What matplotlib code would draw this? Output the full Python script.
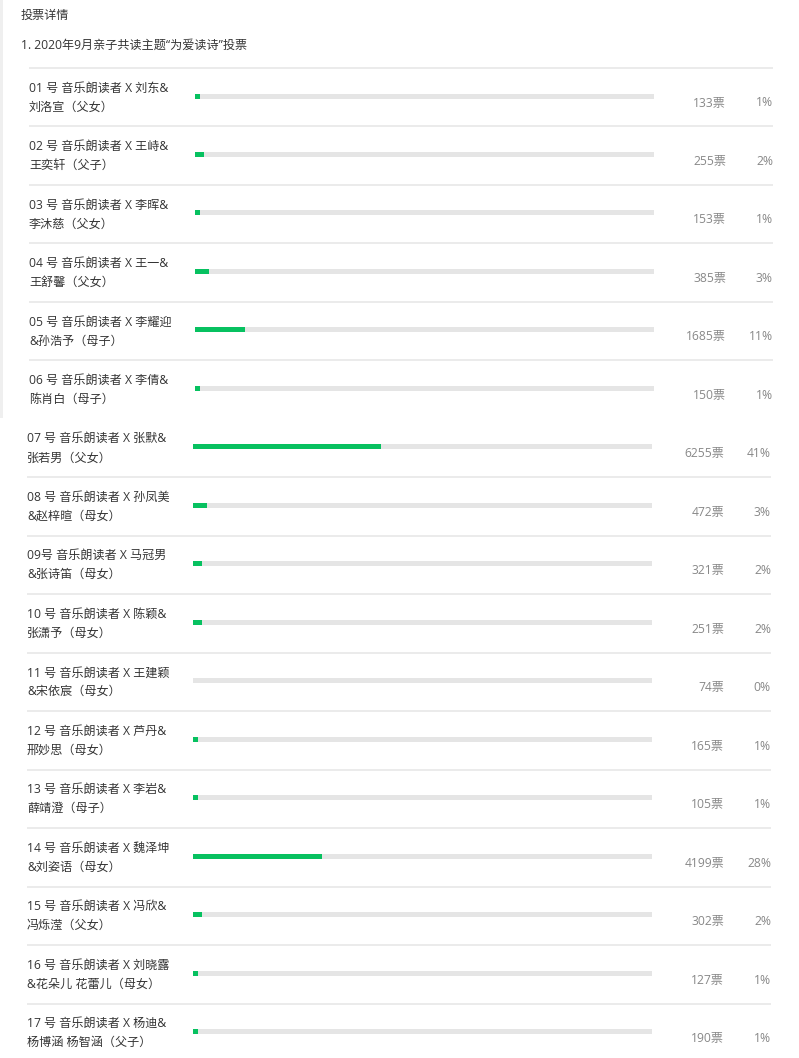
import matplotlib.pyplot as plt
from matplotlib.patches import Rectangle

plt.rcParams['font.family'] = ['Open Sans', 'Noto Sans CJK SC', 'DejaVu Sans']

# data
header = "投票详情"
question = "1. 2020年9月亲子共读主题“为爱读诗”投票"
line1 = ["01 号 音乐朗读者 X 刘东&", "02 号 音乐朗读者 X 王峙&", "03 号 音乐朗读者 X 李晖&",
         "04 号 音乐朗读者 X 王一&", "05 号 音乐朗读者 X 李耀迎", "06 号 音乐朗读者 X 李倩&",
         "07 号 音乐朗读者 X 张默&", "08 号 音乐朗读者 X 孙凤美", "09号 音乐朗读者 X 马冠男",
         "10 号 音乐朗读者 X 陈颖&", "11 号 音乐朗读者 X 王建颖", "12 号 音乐朗读者 X 芦丹&",
         "13 号 音乐朗读者 X 李岩&", "14 号 音乐朗读者 X 魏泽坤", "15 号 音乐朗读者 X 冯欣&",
         "16 号 音乐朗读者 X 刘晓露", "17 号 音乐朗读者 X 杨迪&"]
line2 = ["刘洛宣（父女）", "王奕轩（父子）", "李沐慈（父女）", "王舒馨（父女）", "&孙浩予（母子）",
         "陈肖白（母子）", "张若男（父女）", "&赵梓暄（母女）", "&张诗笛（母女）", "张潇予（母女）",
         "&宋依宸（母女）", "邢妙思（母女）", "薛靖澄（母子）", "&刘姿语（母女）", "冯烁滢（父女）",
         "&花朵儿 花蕾儿（母女）", "杨博涵 杨智涵（父子）"]
votes = [133, 255, 153, 385, 1685, 150, 6255, 472, 321, 251, 74, 165, 105, 4199, 302, 127, 190]
pcts = [1, 2, 1, 3, 11, 1, 41, 3, 2, 2, 0, 1, 1, 28, 2, 1, 1]

W, H = 799, 1058
fig = plt.figure(figsize=(W / 100, H / 100), dpi=100)
ax = fig.add_axes([0, 0, 1, 1])
ax.set_xlim(0, W)
ax.set_ylim(H, 0)
ax.axis('off')

green = '#07c160'
track = '#e5e5e5'
dark = '#353535'
grey = '#888888'
fs = 8.7

# left border of the upper screenshot part
ax.add_patch(Rectangle((0, 0), 3, 418, color='#efefef', lw=0))

ax.text(21, 15, header, fontsize=fs, color=dark, va='center')
ax.text(21, 45, question, fontsize=fs, color=dark, va='center')

pitch = 58.47
track_len = 459
for i in range(len(votes)):
    top = 68 + i * pitch
    dx = 2 if i < 6 else 0
    if i != 6:
        ax.plot([27 + dx, 771 + dx], [top, top], color='#e8e8e8', lw=1.2, solid_capstyle='butt')
    ax.text(27 + dx, top + 20, line1[i], fontsize=fs, color=dark, va='center')
    ax.text(27 + dx, top + 39, line2[i], fontsize=fs, color=dark, va='center')
    ax.barh(top + 28, track_len, left=193 + dx, height=5, color=track, lw=0)
    ax.barh(top + 28, track_len * pcts[i] / 100, left=193 + dx, height=5, color=green, lw=0)
    ax.text(724 + dx, top + 35, f"{votes[i]}票", fontsize=fs, color=grey, va='center', ha='right')
    ax.text(771 + dx, top + 35, f"{pcts[i]}%", fontsize=fs, color=grey, va='center', ha='right')

fig.savefig('out.png', dpi=100)
